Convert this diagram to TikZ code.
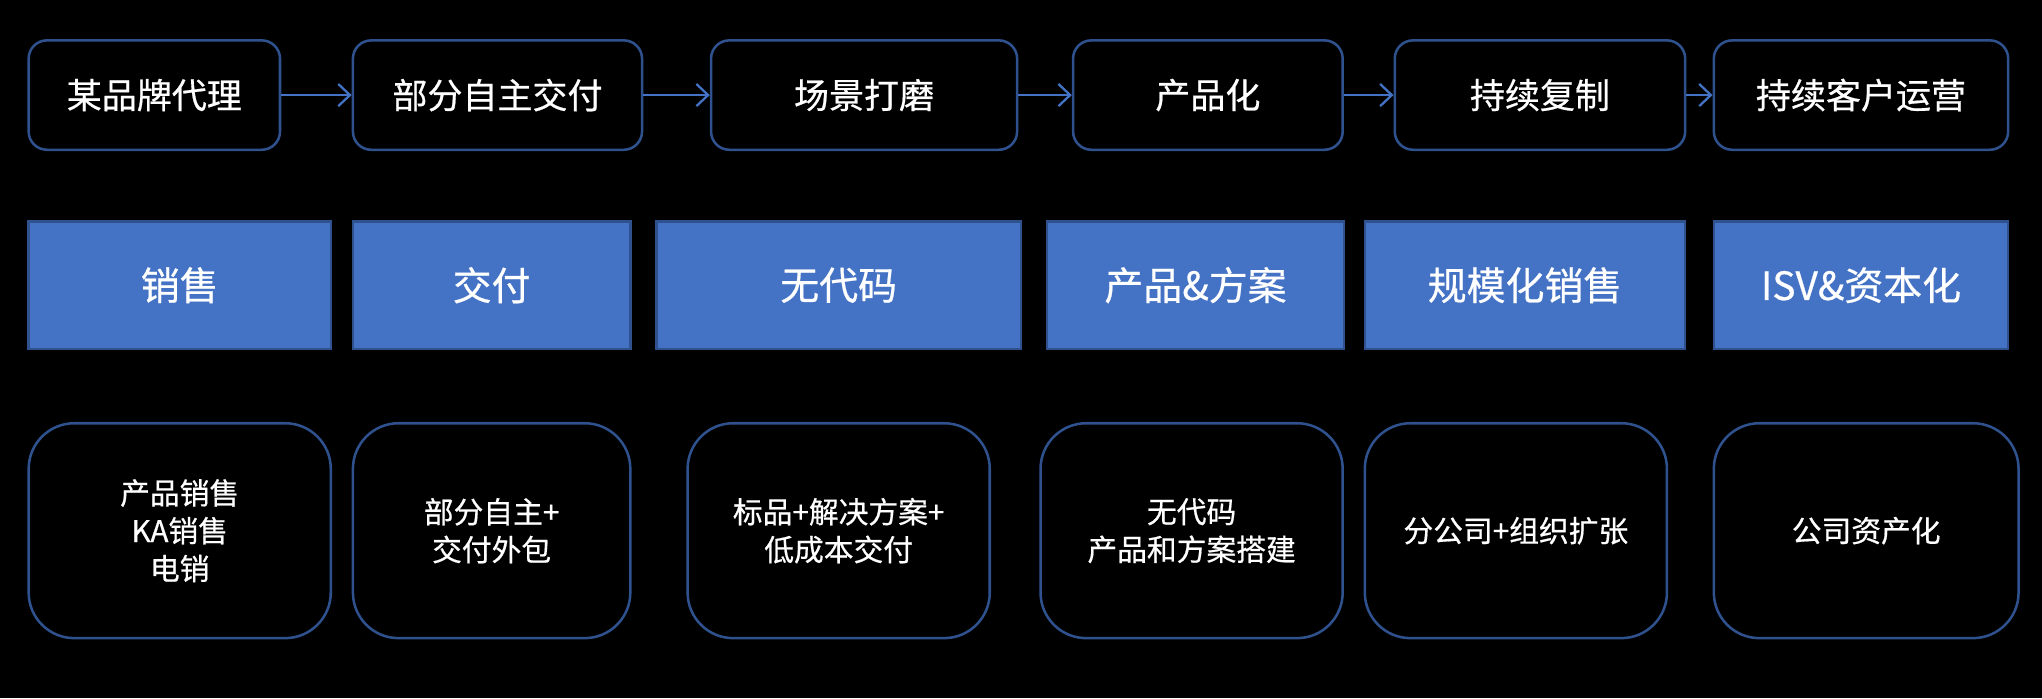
\documentclass[tikz,border=0pt]{standalone}
\usepackage{fontspec}
\setmainfont[FakeBold=0.6]{Noto Sans CJK SC}
\usetikzlibrary{positioning,arrows.meta}
\definecolor{edgeblue}{HTML}{2F528F}
\definecolor{fillblue}{HTML}{4472C4}
\tikzset{
  stage/.style={draw=edgeblue, line width=1.1pt, rounded corners=2.8mm, text=white,
    minimum height=16.8mm, font=\fontsize{15.3}{18}\selectfont},
  field/.style={draw=edgeblue, fill=fillblue, line width=1.1pt, text=white,
    minimum height=19.6mm, font=\fontsize{17}{20}\selectfont},
  detail/.style={draw=edgeblue, line width=1.1pt, rounded corners=7mm, text=white,
    minimum height=33mm, align=center, font=\fontsize{13}{16.5}\selectfont},
  flow/.style={draw=fillblue, line width=1pt, -{Straight Barb[length=1.8mm,width=3.4mm]}}
}
\begin{document}
\begin{tikzpicture}[x=0.2mm, y=-0.2mm]
  \fill[black] (0,0) rectangle (1568,536);
  \useasboundingbox (0,0) rectangle (1568,536);
  % top row: stages
  \foreach \cx/\w/\txt/\n in {118.5/193/某品牌代理/1, 382/222/部分自主交付/2,
      663.5/235/场景打磨/3, 927.5/207/产品化/4, 1182.5/223/持续复制/5, 1429/226/持续客户运营/6} {
    \node[stage, minimum width=\w*0.2mm] (t\n) at (\cx,73) {\txt};
  }
  \foreach \a/\b in {t1/t2, t2/t3, t3/t4, t4/t5, t5/t6} {
    \draw[flow] (\a) -- (\b);
  }
  % middle row: fields
  \foreach \cx/\w/\txt/\n in {138/232/销售/1, 377.5/213/交付/2, 644/280/无代码/3,
      918/228/产品\&方案/4, 1171/246/规模化销售/5, 1429/226/ISV\&资本化/6} {
    \node[field, minimum width=\w*0.2mm] (m\n) at (\cx,219) {\txt};
  }
  % bottom row: details
  \foreach \cx/\w/\txt/\n in {138/232/{产品销售\\KA销售\\电销}/1, 377.5/213/{部分自主+\\交付外包}/2,
      644/232/{标品+解决方案+\\低成本交付}/3, 915/232/{无代码\\产品和方案搭建}/4,
      1164/232/{分公司+组织扩张}/5, 1433/234/{公司资产化}/6} {
    \node[detail, minimum width=\w*0.2mm] (b\n) at (\cx,407.5) {\txt};
  }
\end{tikzpicture}
\end{document}
